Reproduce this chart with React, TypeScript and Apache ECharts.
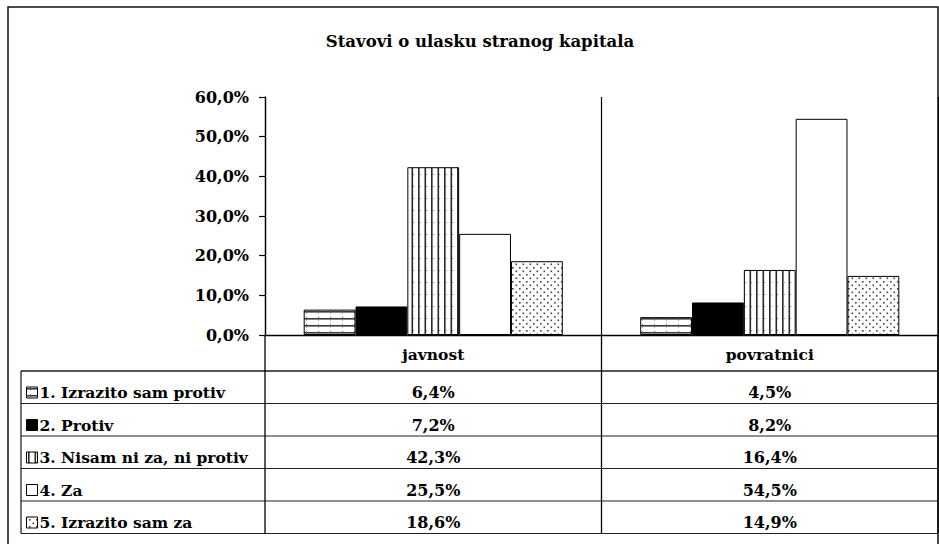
import React, { useEffect, useRef } from 'react';
import * as echarts from 'echarts';

const chartTitle = 'Stavovi o ulasku stranog kapitala';
const categories = ['javnost', 'povratnici'];
const seriesNames = [
  '1. Izrazito sam protiv',
  '2. Protiv',
  '3. Nisam ni za, ni protiv',
  '4. Za',
  '5. Izrazito sam za',
];
const izrazitoProtiv = [6.4, 4.5];
const protiv = [7.2, 8.2];
const nisamNiZaNiProtiv = [42.3, 16.4];
const za = [25.5, 54.5];
const izrazitoZa = [18.6, 14.9];
const seriesValues = [izrazitoProtiv, protiv, nisamNiZaNiProtiv, za, izrazitoZa];
const yMin = 0;
const yMax = 60;
const yInterval = 10;

const FONT = 'DejaVu Serif';

function fmt(v: number) {
  return v.toFixed(1).replace('.', ',') + '%';
}

function tile(w: number, h: number, draw: (ctx: CanvasRenderingContext2D) => void) {
  const c = document.createElement('canvas');
  c.width = w;
  c.height = h;
  const ctx = c.getContext('2d')!;
  ctx.fillStyle = '#ffffff';
  ctx.fillRect(0, 0, w, h);
  draw(ctx);
  return { image: c, repeat: 'repeat', imageWidth: w, imageHeight: h } as any;
}

function makeFills() {
  const horiz = tile(12, 7, (ctx) => {
    ctx.fillStyle = '#3a3a3a';
    ctx.fillRect(0, 3, 12, 1.6);
    ctx.fillStyle = '#666';
    ctx.fillRect(6, 2, 1, 3.5);
  });
  const vert = tile(13, 12, (ctx) => {
    ctx.fillStyle = '#2a2a2a';
    ctx.fillRect(2, 0, 1.6, 12);
    ctx.fillRect(8.5, 0, 1.6, 12);
    ctx.fillStyle = '#777';
    ctx.fillRect(3.6, 6, 1, 1);
    ctx.fillRect(10.1, 6, 1, 1);
  });
  const dots = tile(7, 7, (ctx) => {
    ctx.fillStyle = '#444';
    ctx.fillRect(1, 1, 1.6, 1.6);
    ctx.fillRect(4.5, 4.5, 1.6, 1.6);
  });
  return [horiz, '#000000', vert, '#ffffff', dots];
}

export default function App() {
  const ref = useRef<HTMLDivElement>(null);
  useEffect(() => {
    document.body.style.margin = '0';
    const el = ref.current!;
    const chart = echarts.init(el, null, { renderer: 'svg' });
    const fills = makeFills();

    const option: any = {
      animation: false,
      backgroundColor: '#ffffff',
      textStyle: { fontFamily: FONT },
      grid: { left: 265, right: 1, top: 97, bottom: 209, containLabel: false },
      xAxis: {
        type: 'category',
        data: categories,
        axisLine: { show: true, lineStyle: { color: '#000', width: 1.3 } },
        axisTick: { show: false },
        splitLine: { show: true, lineStyle: { color: '#000', width: 1.2 } },
        axisLabel: {
          margin: 11,
          color: '#000',
          fontFamily: FONT,
          fontWeight: 'bold',
          fontSize: 15.5,
        },
      },
      yAxis: {
        type: 'value',
        min: yMin,
        max: yMax,
        interval: yInterval,
        axisLine: { show: true, lineStyle: { color: '#000', width: 1.3 } },
        axisTick: { show: true, length: 6, lineStyle: { color: '#000', width: 1.2 } },
        splitLine: { show: false },
        axisLabel: {
          margin: 16,
          color: '#000',
          fontFamily: FONT,
          fontWeight: 'bold',
          fontSize: 16,
          formatter: (v: number) => fmt(v),
        },
      },
      series: seriesNames.map((name, i) => ({
        name,
        type: 'bar',
        data: seriesValues[i],
        barGap: '0%',
        barCategoryGap: '23%',
        itemStyle: { color: fills[i], borderColor: '#000', borderWidth: 1 },
      })),
    };
    chart.setOption(option);

    const cx = categories.map((c) => chart.convertToPixel({ xAxisIndex: 0 }, c) as number);
    const half = (cx[1] - cx[0]) / 2;
    const bounds = [cx[0] - half, cx[0] + half, cx[1] + half];
    const y0 = chart.convertToPixel({ yAxisIndex: 0 }, 0) as number;
    const headerBottom = y0 + 36;
    const rowH = 32.5;
    const tableLeft = 21;
    const tableBottom = headerBottom + rowH * seriesNames.length;

    const g: any[] = [];
    const line = (x1: number, y1: number, x2: number, y2: number, color = '#111', w = 1.2) =>
      g.push({ type: 'line', shape: { x1, y1, x2, y2 }, style: { stroke: color, lineWidth: w }, silent: true });

    g.push({
      type: 'rect',
      shape: { x: 8, y: 7, width: 930, height: 560 },
      style: { fill: 'none', stroke: '#111', lineWidth: 1.5 },
      silent: true,
    });
    g.push({
      type: 'text',
      x: 480,
      y: 41,
      style: {
        text: chartTitle,
        fill: '#000',
        fontFamily: FONT,
        fontWeight: 'bold',
        fontSize: 16.5,
        align: 'center',
        verticalAlign: 'middle',
      },
    });
    for (let i = 0; i <= seriesNames.length; i++) {
      const y = headerBottom + i * rowH;
      line(tableLeft, y, bounds[2], y, i === 0 ? '#555' : '#222', i === 0 ? 1.8 : 1.2);
    }
    line(tableLeft, headerBottom, tableLeft, tableBottom);
    bounds.forEach((x) => line(x, y0, x, tableBottom, '#000', 1.3));

    seriesNames.forEach((name, i) => {
      const rowTop = headerBottom + i * rowH;
      const cy = rowTop + 21.5;
      g.push({
        type: 'rect',
        shape: { x: 26.5, y: cy - 5.5, width: 11, height: 11 },
        style: { fill: fills[i], stroke: '#000', lineWidth: 1 },
        silent: true,
      });
      g.push({
        type: 'text',
        x: 39.5,
        y: cy,
        style: {
          text: name,
          fill: '#000',
          fontFamily: FONT,
          fontWeight: 'bold',
          fontSize: 15.5,
          align: 'left',
          verticalAlign: 'middle',
        },
      });
      seriesValues[i].forEach((v, j) => {
        g.push({
          type: 'text',
          x: cx[j],
          y: cy,
          style: {
            text: fmt(v),
            fill: '#000',
            fontFamily: FONT,
            fontWeight: 'bold',
            fontSize: 16,
            align: 'center',
            verticalAlign: 'middle',
          },
        });
      });
    });

    chart.setOption({ graphic: g });
    return () => chart.dispose();
  }, []);
  return <div ref={ref} style={{ width: 939, height: 544 }} />;
}
